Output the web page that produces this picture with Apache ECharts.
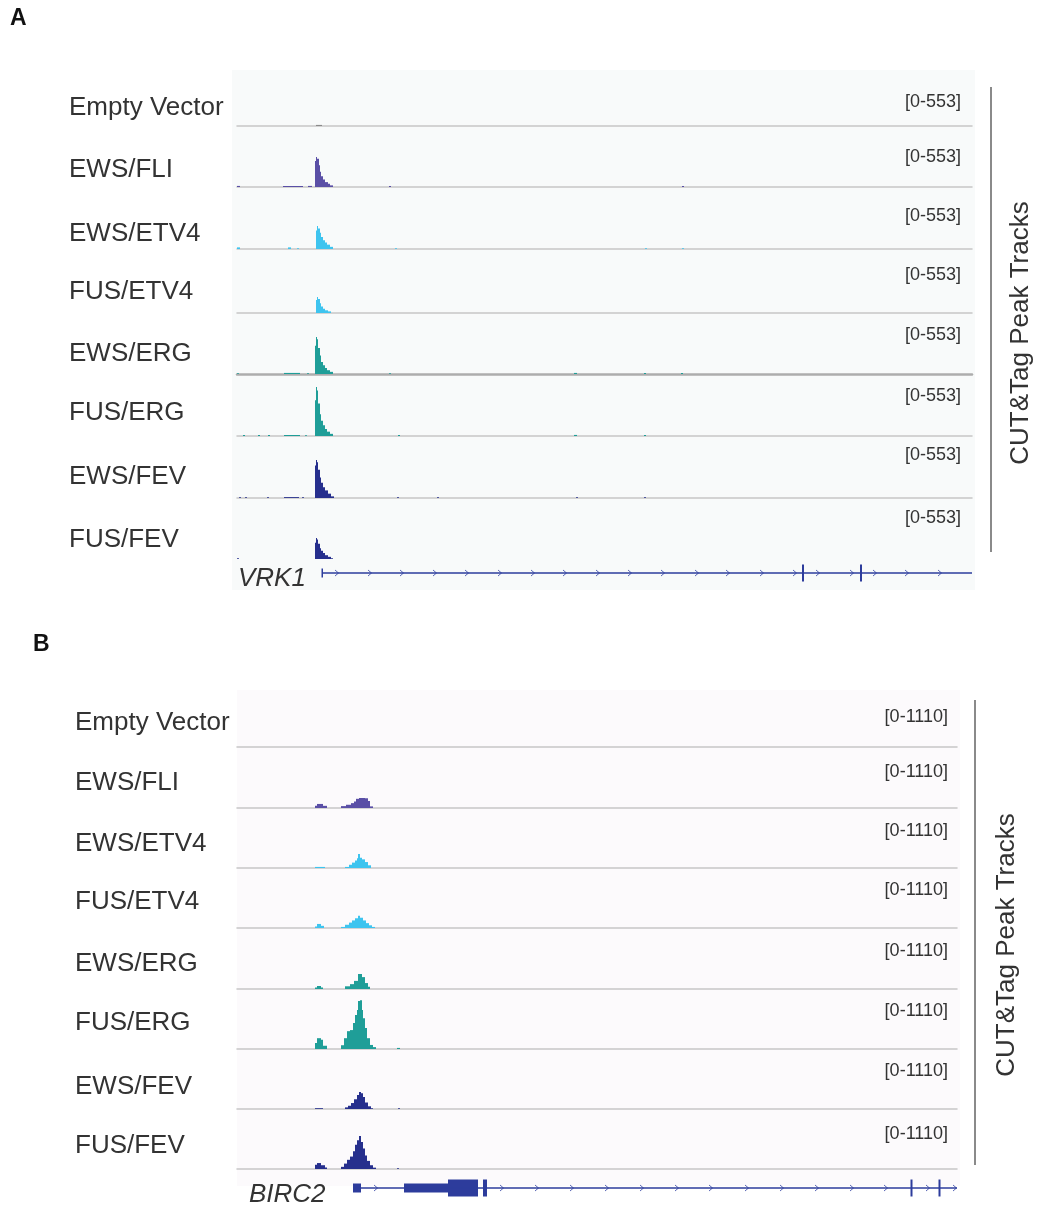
<!DOCTYPE html>
<html>
<head>
<meta charset="utf-8">
<script src="https://cdn.jsdelivr.net/npm/echarts@6/dist/echarts.min.js"></script>
<style>html,body{margin:0;padding:0;background:#fff}#chart{width:1042px;height:1208px}</style>
</head>
<body>
<div id="chart"></div>
<script>
// ---------------- DATA ----------------
const trackNames = ['Empty Vector', 'EWS/FLI', 'EWS/ETV4', 'FUS/ETV4', 'EWS/ERG', 'FUS/ERG', 'EWS/FEV', 'FUS/FEV'];
const panelLetters = ['A', 'B'];
const geneNames = ['VRK1', 'BIRC2'];
const sideTitle = 'CUT&Tag Peak Tracks';
const dataRangeA = [0, 553];
const dataRangeB = [0, 1110];
const windowA = [0, 735];   // genomic window (relative bins)
const windowB = [0, 720];

// bedgraph-like tracks: [start, value] — value holds until next start
const vrk1EmptyVector = [[79, 10], [85, 0]];
const vrk1EwsFli = [[0, 10], [3, 0], [46, 9], [66, 0], [71, 10], [75, 0],
  [78, 240], [79, 277], [80, 260], [82, 200], [83, 140], [84, 100], [86, 70], [88, 45], [91, 30], [93, 15], [96, 0],
  [152, 10], [154, 0], [445, 10], [447, 0]];
const vrk1EwsEtv4 = [[0, 15], [3, 0], [51, 15], [54, 0], [60, 8], [62, 0],
  [79, 170], [80, 212], [81, 190], [83, 150], [84, 110], [86, 80], [88, 60], [90, 40], [93, 20], [96, 0],
  [158, 8], [160, 0], [408, 8], [410, 0], [445, 8], [447, 0]];
const vrk1FusEtv4 = [[79, 120], [80, 147], [81, 130], [83, 90], [84, 60], [86, 40], [88, 25], [91, 15], [94, 0]];
const vrk1EwsErg = [[0, 6], [2, 0], [47, 10], [63, 0], [70, 8], [72, 0],
  [78, 260], [79, 341], [80, 320], [81, 240], [83, 170], [84, 110], [86, 80], [88, 55], [90, 35], [93, 20], [96, 0],
  [152, 8], [154, 0], [337, 10], [340, 0], [407, 10], [409, 0], [444, 10], [446, 0]];
const vrk1FusErg = [[6, 10], [8, 0], [21, 10], [23, 0], [31, 10], [33, 0], [47, 9], [63, 0], [68, 8], [70, 0],
  [78, 330], [79, 452], [80, 420], [81, 300], [83, 200], [84, 140], [86, 100], [88, 65], [90, 40], [93, 20], [96, 0],
  [161, 10], [163, 0], [337, 10], [340, 0], [407, 10], [409, 0]];
const vrk1EwsFev = [[2, 8], [4, 0], [8, 8], [10, 0], [30, 8], [32, 0], [47, 8], [62, 0], [65, 8], [67, 0],
  [78, 300], [79, 350], [80, 330], [81, 260], [83, 190], [84, 140], [86, 100], [88, 70], [91, 40], [94, 15], [97, 0],
  [160, 8], [162, 0], [200, 8], [202, 0], [339, 8], [341, 0], [407, 8], [409, 0]];
const vrk1FusFev = [[0, 8], [2, 0],
  [78, 150], [79, 194], [80, 180], [81, 140], [83, 100], [84, 75], [86, 55], [88, 35], [91, 20], [94, 8], [96, 0]];

const birc2EmptyVector = [];
const birc2EwsFli = [[78, 40], [80, 75], [86, 40], [90, 0],
  [104, 35], [109, 60], [114, 90], [117, 120], [119, 170], [122, 185], [128, 180], [131, 130], [133, 30], [136, 0]];
const birc2EwsEtv4 = [[78, 20], [88, 0],
  [108, 20], [112, 60], [115, 100], [118, 140], [120, 180], [121, 260], [123, 190], [125, 160], [128, 110], [131, 50], [134, 0]];
const birc2FusEtv4 = [[78, 30], [80, 75], [84, 40], [87, 0],
  [104, 20], [108, 60], [112, 100], [115, 140], [118, 180], [121, 225], [123, 190], [126, 140], [129, 90], [132, 50], [135, 20], [138, 0]];
const birc2EwsErg = [[78, 30], [80, 55], [84, 30], [86, 0],
  [108, 50], [113, 90], [117, 150], [121, 278], [125, 220], [128, 110], [131, 40], [133, 0]];
const birc2FusErg = [[78, 110], [80, 200], [84, 170], [86, 60], [90, 0],
  [104, 70], [107, 200], [110, 330], [113, 350], [116, 480], [118, 630], [120, 720], [121, 890], [123, 900], [125, 720],
  [126, 570], [128, 390], [130, 200], [133, 75], [136, 35], [139, 0], [160, 20], [163, 0]];
const birc2EwsFev = [[78, 15], [86, 0],
  [108, 30], [111, 60], [114, 110], [117, 180], [120, 260], [122, 315], [124, 290], [126, 220], [128, 120], [131, 50], [134, 15], [136, 0],
  [161, 15], [163, 0]];
const birc2FusFev = [[78, 80], [80, 110], [84, 70], [88, 30], [90, 0],
  [104, 40], [107, 100], [110, 170], [113, 230], [116, 330], [118, 450], [120, 530], [122, 610], [124, 500], [126, 380],
  [128, 250], [130, 150], [133, 70], [136, 25], [139, 0], [160, 15], [162, 0]];

const tracksA = [vrk1EmptyVector, vrk1EwsFli, vrk1EwsEtv4, vrk1FusEtv4, vrk1EwsErg, vrk1FusErg, vrk1EwsFev, vrk1FusFev];
const tracksB = [birc2EmptyVector, birc2EwsFli, birc2EwsEtv4, birc2FusEtv4, birc2EwsErg, birc2FusErg, birc2EwsFev, birc2FusFev];

// gene models: introns [start,end]; exons [start,end,kind] kind 0 = UTR (thin), 1 = CDS (thick)
const vrk1Intron = [[85, 735]];
const vrk1Exons = [[84.5, 86, 0], [565, 567, 1], [623, 625, 1]];
const vrk1Arrows = [100, 133, 165, 198, 230, 263, 296, 328, 361, 393, 426, 460, 491, 525, 558, 581, 615, 638, 670, 703];
const birc2Intron = [[117, 720]];
const birc2Exons = [[116, 124, 0], [167, 211, 0], [211, 241, 1], [246, 250, 1], [673.5, 675.5, 1], [701.5, 703.5, 1]];
const birc2Arrows = [139, 265, 300, 335, 370, 405, 440, 474, 510, 545, 580, 615, 649, 691, 718];

// ---------------- STYLE / LAYOUT ----------------
const trackColors = ['#8a8a8a', '#5a4fa6', '#3ec4ef', '#3ec4ef', '#1f9e98', '#1f9e98', '#262f8d', '#262f8d'];
const geneColor = '#2d3c9c';
const FONT = "'Liberation Sans', Arial, sans-serif";
const TRACK_H = 60;
const panels = [
  { left: 237, width: 735, win: windowA, range: dataRangeA, tracks: tracksA,
    baselines: [126, 187, 249, 313, 374, 436, 498, 559], showLine: [1, 1, 1, 1, 1, 1, 1, 0],
    labelX: 69, labelY: [106, 168, 232, 290, 352, 411, 475, 538],
    rangeRight: 961, rangeY: [101, 156, 215, 274, 334, 395, 454, 517],
    geneY: 573, intron: vrk1Intron, exons: vrk1Exons, arrows: vrk1Arrows,
    geneLabel: [238, 579], letter: [10, 19],
    bracketX: 991, bracketY: [87, 552], titlePos: [1021, 333],
    bg: { x: 232, y: 70, w: 743, h: 520, c: '#f8fafa' } },
  { left: 237, width: 720, win: windowB, range: dataRangeB, tracks: tracksB,
    baselines: [747, 808, 868, 928, 989, 1049, 1109, 1169], showLine: [1, 1, 1, 1, 1, 1, 1, 1],
    labelX: 75, labelY: [721, 781, 842, 900, 962, 1021, 1085, 1144],
    rangeRight: 948, rangeY: [716, 771, 830, 889, 950, 1010, 1070, 1133],
    geneY: 1188, intron: birc2Intron, exons: birc2Exons, arrows: birc2Arrows,
    geneLabel: [249, 1195], letter: [33, 645],
    bracketX: 975, bracketY: [700, 1165], titlePos: [1007, 945],
    bg: { x: 237, y: 690, w: 723, h: 496, c: '#fcfafc' } }
];
const LABEL_DY = 2;

// turn [start,value] steps into [start,end,value] segments
function toSegments(pairs) {
  const out = [];
  for (let i = 0; i < pairs.length - 1; i++) {
    if (pairs[i][1] > 0) out.push([pairs[i][0], pairs[i + 1][0], pairs[i][1]]);
  }
  return out;
}

const grid = [], xAxis = [], yAxis = [], series = [], graphic = [];

panels.forEach((p, pi) => {
  graphic.push({ type: 'rect', z: -10, shape: { x: p.bg.x, y: p.bg.y, width: p.bg.w, height: p.bg.h }, style: { fill: p.bg.c } });
  p.tracks.forEach((t, ti) => {
    const idx = grid.length;
    const heavy = (pi === 0 && ti === 4);
    grid.push({ left: p.left, width: p.width, top: p.baselines[ti] - TRACK_H, height: TRACK_H });
    xAxis.push({ gridIndex: idx, type: 'value', min: p.win[0], max: p.win[1],
      axisLine: { show: !!p.showLine[ti], onZero: false, lineStyle: { color: heavy ? '#adadad' : '#c6c6c6', width: heavy ? 2.5 : 1.5 } },
      axisTick: { show: false }, axisLabel: { show: false }, splitLine: { show: false } });
    yAxis.push({ gridIndex: idx, type: 'value', min: p.range[0], max: p.range[1], show: false });
    series.push({ type: 'custom', xAxisIndex: idx, yAxisIndex: idx, data: toSegments(t), silent: true, animation: false, z: 3,
      renderItem: (params, api) => {
        const a = api.coord([api.value(0), api.value(2)]);
        const b = api.coord([api.value(1), 0]);
        return { type: 'rect', shape: { x: a[0], y: a[1], width: b[0] - a[0], height: b[1] - a[1] },
          style: { fill: trackColors[ti] } };
      } });
    graphic.push({ type: 'text', x: p.labelX, y: p.labelY[ti] + LABEL_DY,
      style: { text: trackNames[ti], font: '26px ' + FONT, fill: '#333', textVerticalAlign: 'middle' } });
    graphic.push({ type: 'text', x: p.rangeRight, y: p.rangeY[ti] + 1,
      style: { text: '[' + p.range[0] + '-' + p.range[1] + ']', font: '18px ' + FONT, fill: '#333', textAlign: 'right', textVerticalAlign: 'middle' } });
  });
  // gene track
  const gi = grid.length;
  grid.push({ left: p.left, width: p.width, top: p.geneY - 10, height: 20 });
  xAxis.push({ gridIndex: gi, type: 'value', min: p.win[0], max: p.win[1], show: false });
  yAxis.push({ gridIndex: gi, type: 'value', min: -1, max: 1, show: false });
  p.intron.forEach(seg => {
    series.push({ type: 'line', xAxisIndex: gi, yAxisIndex: gi, data: [[seg[0], 0], [seg[1], 0]], symbol: 'none', silent: true,
      animation: false, lineStyle: { color: geneColor, width: 1.5 } });
  });
  series.push({ type: 'custom', xAxisIndex: gi, yAxisIndex: gi, data: p.exons, silent: true, animation: false,
    renderItem: (params, api) => {
      const s = api.coord([api.value(0), 0]);
      const e = api.coord([api.value(1), 0]);
      const h = api.value(2) === 1 ? 17 : 9;
      return { type: 'rect', shape: { x: s[0], y: s[1] - h / 2, width: Math.max(e[0] - s[0], 1.5), height: h }, style: { fill: geneColor } };
    } });
  series.push({ type: 'custom', xAxisIndex: gi, yAxisIndex: gi, data: p.arrows.map(a => [a, 0]), silent: true, animation: false,
    renderItem: (params, api) => {
      const c = api.coord([api.value(0), 0]);
      return { type: 'polyline', shape: { points: [[c[0] - 2, c[1] - 3], [c[0] + 1.5, c[1]], [c[0] - 2, c[1] + 3]] },
        style: { stroke: '#5a67b5', lineWidth: 1, fill: null } };
    } });
  graphic.push({ type: 'text', x: p.geneLabel[0], y: p.geneLabel[1],
    style: { text: geneNames[pi], font: 'italic 26px ' + FONT, fill: '#333', textVerticalAlign: 'middle' } });
  graphic.push({ type: 'text', x: p.letter[0], y: p.letter[1],
    style: { text: panelLetters[pi], font: 'bold 23px ' + FONT, fill: '#111', textVerticalAlign: 'middle' } });
  graphic.push({ type: 'line', shape: { x1: p.bracketX, y1: p.bracketY[0], x2: p.bracketX, y2: p.bracketY[1] },
    style: { stroke: '#8a8a8a', lineWidth: 2 } });
  graphic.push({ type: 'text', x: p.titlePos[0], y: p.titlePos[1], rotation: Math.PI / 2,
    style: { text: sideTitle, font: '26px ' + FONT, fill: '#333', textAlign: 'center', textVerticalAlign: 'middle' } });
});

const chart = echarts.init(document.getElementById('chart'), null, { renderer: 'canvas' });
chart.setOption({ animation: false, backgroundColor: '#fff', grid, xAxis, yAxis, series, graphic });
</script>
</body>
</html>
